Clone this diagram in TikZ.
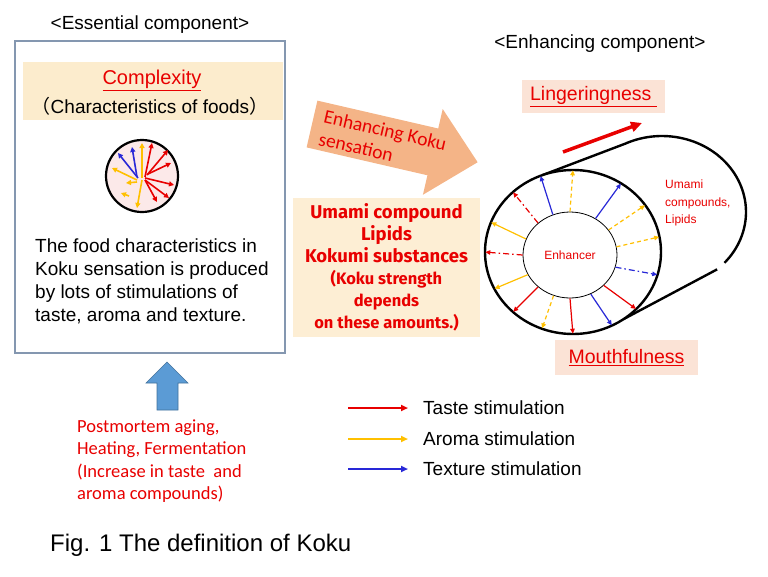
\documentclass[tikz,border=0pt]{standalone}
\usepackage{fontspec}
\setmainfont{Liberation Sans}
\newfontfamily\calfont{Carlito}
\newfontfamily\popfont{Fira Sans}
\newfontfamily\cjk{Noto Sans CJK JP}
\usetikzlibrary{shapes.geometric,arrows.meta,calc}

\definecolor{kred}{RGB}{232,0,0}
\definecolor{kgold}{RGB}{255,192,0}
\definecolor{kblue}{RGB}{40,40,215}
\definecolor{bandfill}{RGB}{252,236,205}
\definecolor{boxfill}{RGB}{253,238,212}
\definecolor{pinkfill}{RGB}{251,227,214}
\definecolor{arrowfill}{RGB}{244,180,135}
\definecolor{upfill}{RGB}{91,155,213}
\definecolor{upline}{RGB}{65,113,156}
\definecolor{framecol}{RGB}{132,151,176}
\definecolor{mixfill}{RGB}{252,233,233}
\newcommand\lsz{\fontsize{16.5}{21}\selectfont}

\begin{document}
\begin{tikzpicture}[x=1pt, y=-1pt,
  lbl/.style={font=\fontsize{19}{23}\selectfont, align=left, inner sep=0pt},
  redlbl/.style={font=\calfont\fontsize{18.5}{22.5}\selectfont, text=kred, align=left, inner sep=0pt},
  tag/.style={rectangle, fill=pinkfill, inner sep=0pt, font=\fontsize{19.5}{23}\selectfont, text=kred},
  stim/.style={-{Triangle[length=5pt,width=4.5pt]}, line width=1.2pt, shorten >=1.5pt},
  mixarr/.style={-{Triangle[length=5pt,width=5pt]}, line width=1.6pt},
  legend/.style={-{Triangle[length=7pt,width=6pt]}, line width=2pt},
  dsh/.style={dash pattern=on 4pt off 3pt},
  ddot/.style={dash pattern=on 6pt off 3pt on 1.5pt off 3pt},
]
\useasboundingbox (0,0) rectangle (768,576);

\node[lbl] (esshead) at (150,25) {<Essential component>};
\node[draw=framecol, line width=1.3pt, minimum width=270pt, minimum height=312pt, inner sep=0pt] (ess) at (150,197) {};
\node[fill=bandfill, minimum width=260pt, minimum height=58pt, inner sep=0pt] (band) at (153,91) {};
\node[lbl, text=kred, font=\fontsize{20}{23}\selectfont] (cplx) at (152,80) {\underline{Complexity}};
\node[lbl] (chars) at (150,106) {{\cjk （}Characteristics of foods{\cjk ）}};

\node[circle, draw, line width=2.2pt, fill=mixfill, minimum size=72pt, inner sep=0pt] (mix) at (142,176) {};
\foreach \sx/\sy/\ex/\ey/\c in {
  145/177/152/143/kred, 147/175/168/150/kred, 148/174/171/163/kred,
  145/178/174/185/kred, 145/180/169/198/kred, 145/180/157/202/kred,
  138/178/118/153/kblue, 137/177/132/147/kblue,
  142/178/142/143/kgold, 137/180/112/168/kgold, 137/182/126/183/kgold,
  142/180/137/208/kgold, 129/196/121/193/kgold}
  \draw[mixarr, \c] (\sx,\sy) -- (\ex,\ey);

\node[lbl, anchor=west] (food) at (35,281) {The food characteristics in\\Koku sensation is produced\\by lots of stimulations of\\taste, aroma and texture.};

\fill[upfill, draw=upline, line width=0.6pt] (157,410) -- (157,383) -- (146,383) -- (167,362) -- (188,383) -- (178,383) -- (178,410) -- cycle;
\node[redlbl, anchor=west] (cause) at (77,461) {Postmortem aging,\\Heating, Fermentation\\(Increase in taste\ \ and\\aroma compounds)};

\node[lbl, anchor=west, font=\fontsize{24}{28}\selectfont] (fig) at (50,545) {Fig. 1 The definition of Koku};

\begin{scope}[shift={(312,124)}, rotate=-13]
  \fill[arrowfill] (0,-24) -- (124,-24) -- (124,-44) -- (170,0) -- (124,44) -- (124,24) -- (0,24) -- cycle;
  \node[redlbl, anchor=west, rotate=-13, font=\calfont\fontsize{19.5}{23}\selectfont] (enhk) at (10,1) {Enhancing Koku\\sensation};
\end{scope}

\node[fill=boxfill, minimum width=187pt, minimum height=139pt, inner sep=0pt, align=center, text=kred, font=\popfont\bfseries\fontsize{18.5}{22}\selectfont] (amt) at (386.5,267.5)
  {Umami compound\\Lipids\\Kokumi substances\\\lsz (Koku strength\\\lsz depends\\\lsz on these amounts.)};

\node[lbl] (enhhead) at (600,44) {<Enhancing component>};
\node[tag, minimum width=143pt, minimum height=33pt] (ling) at (593.5,96.5) {\underline{Lingeringness\ }};
\node[tag, minimum width=143pt, minimum height=35pt] (mouth) at (626.5,357.5) {\underline{Mouthfulness}};

\coordinate (lgs) at (563,152);
\coordinate (lge) at (642,123);
\draw[-{Triangle[length=11pt,width=10pt]}, line width=3.5pt, kred] (lgs) -- (lge);

\coordinate (ft) at ({573+88*cos(-110)},{252+82*sin(-110)});
\coordinate (fb) at ({573+88*cos(55)},{252+82*sin(55)});
\coordinate (bt) at ({662+84*cos(-116)},{212+76*sin(-116)});
\coordinate (bb) at ({662+84*cos(49)},{212+76*sin(49)});
\draw[line width=2.4pt] (ft) -- (bt) -- plot[domain=-116:42, samples=60] ({662+84*cos(\x)},{212+76*sin(\x)});
\draw[line width=2.4pt] (fb) -- (bb);

\node[ellipse, draw, line width=2.4pt, fill=white, minimum width=176pt, minimum height=164pt, inner sep=0pt] (tube) at (573,252) {};
\node[ellipse, draw, line width=0.8pt, minimum width=94pt, minimum height=86pt, inner sep=0pt, font=\fontsize{12}{14}\selectfont, text=kred] (enh) at (570,255) {Enhancer};
\foreach \a/\c/\s in {113/kblue/solid, 90/kgold/dsh, 55/kblue/solid, 33/kgold/dsh, 10/kgold/dsh,
  -15/kblue/ddot, -42/kred/solid, -62/kblue/solid, -90/kred/solid, -112/kgold/dsh,
  -135/kred/solid, -155/kgold/solid, 180/kred/ddot, 160/kgold/solid, 135/kred/ddot}
  \draw[stim, \c, \s] (enh.\a) -- (tube.\a);

\node[anchor=west, align=left, inner sep=0pt, text=kred, font=\fontsize{12}{17.5}\selectfont] (umami) at (665,203) {Umami\\compounds,\\Lipids};

\node[lbl, anchor=west] (taste) at (423,408) {Taste stimulation};
\node[lbl, anchor=west] (aroma) at (423,439) {Aroma stimulation};
\node[lbl, anchor=west] (texture) at (423,469) {Texture stimulation};
\draw[legend, kred] ([xshift=-75pt]taste.west) -- ([xshift=-15pt]taste.west);
\draw[legend, kgold] ([xshift=-75pt]aroma.west) -- ([xshift=-15pt]aroma.west);
\draw[legend, kblue] ([xshift=-75pt]texture.west) -- ([xshift=-15pt]texture.west);

\end{tikzpicture}
\end{document}
